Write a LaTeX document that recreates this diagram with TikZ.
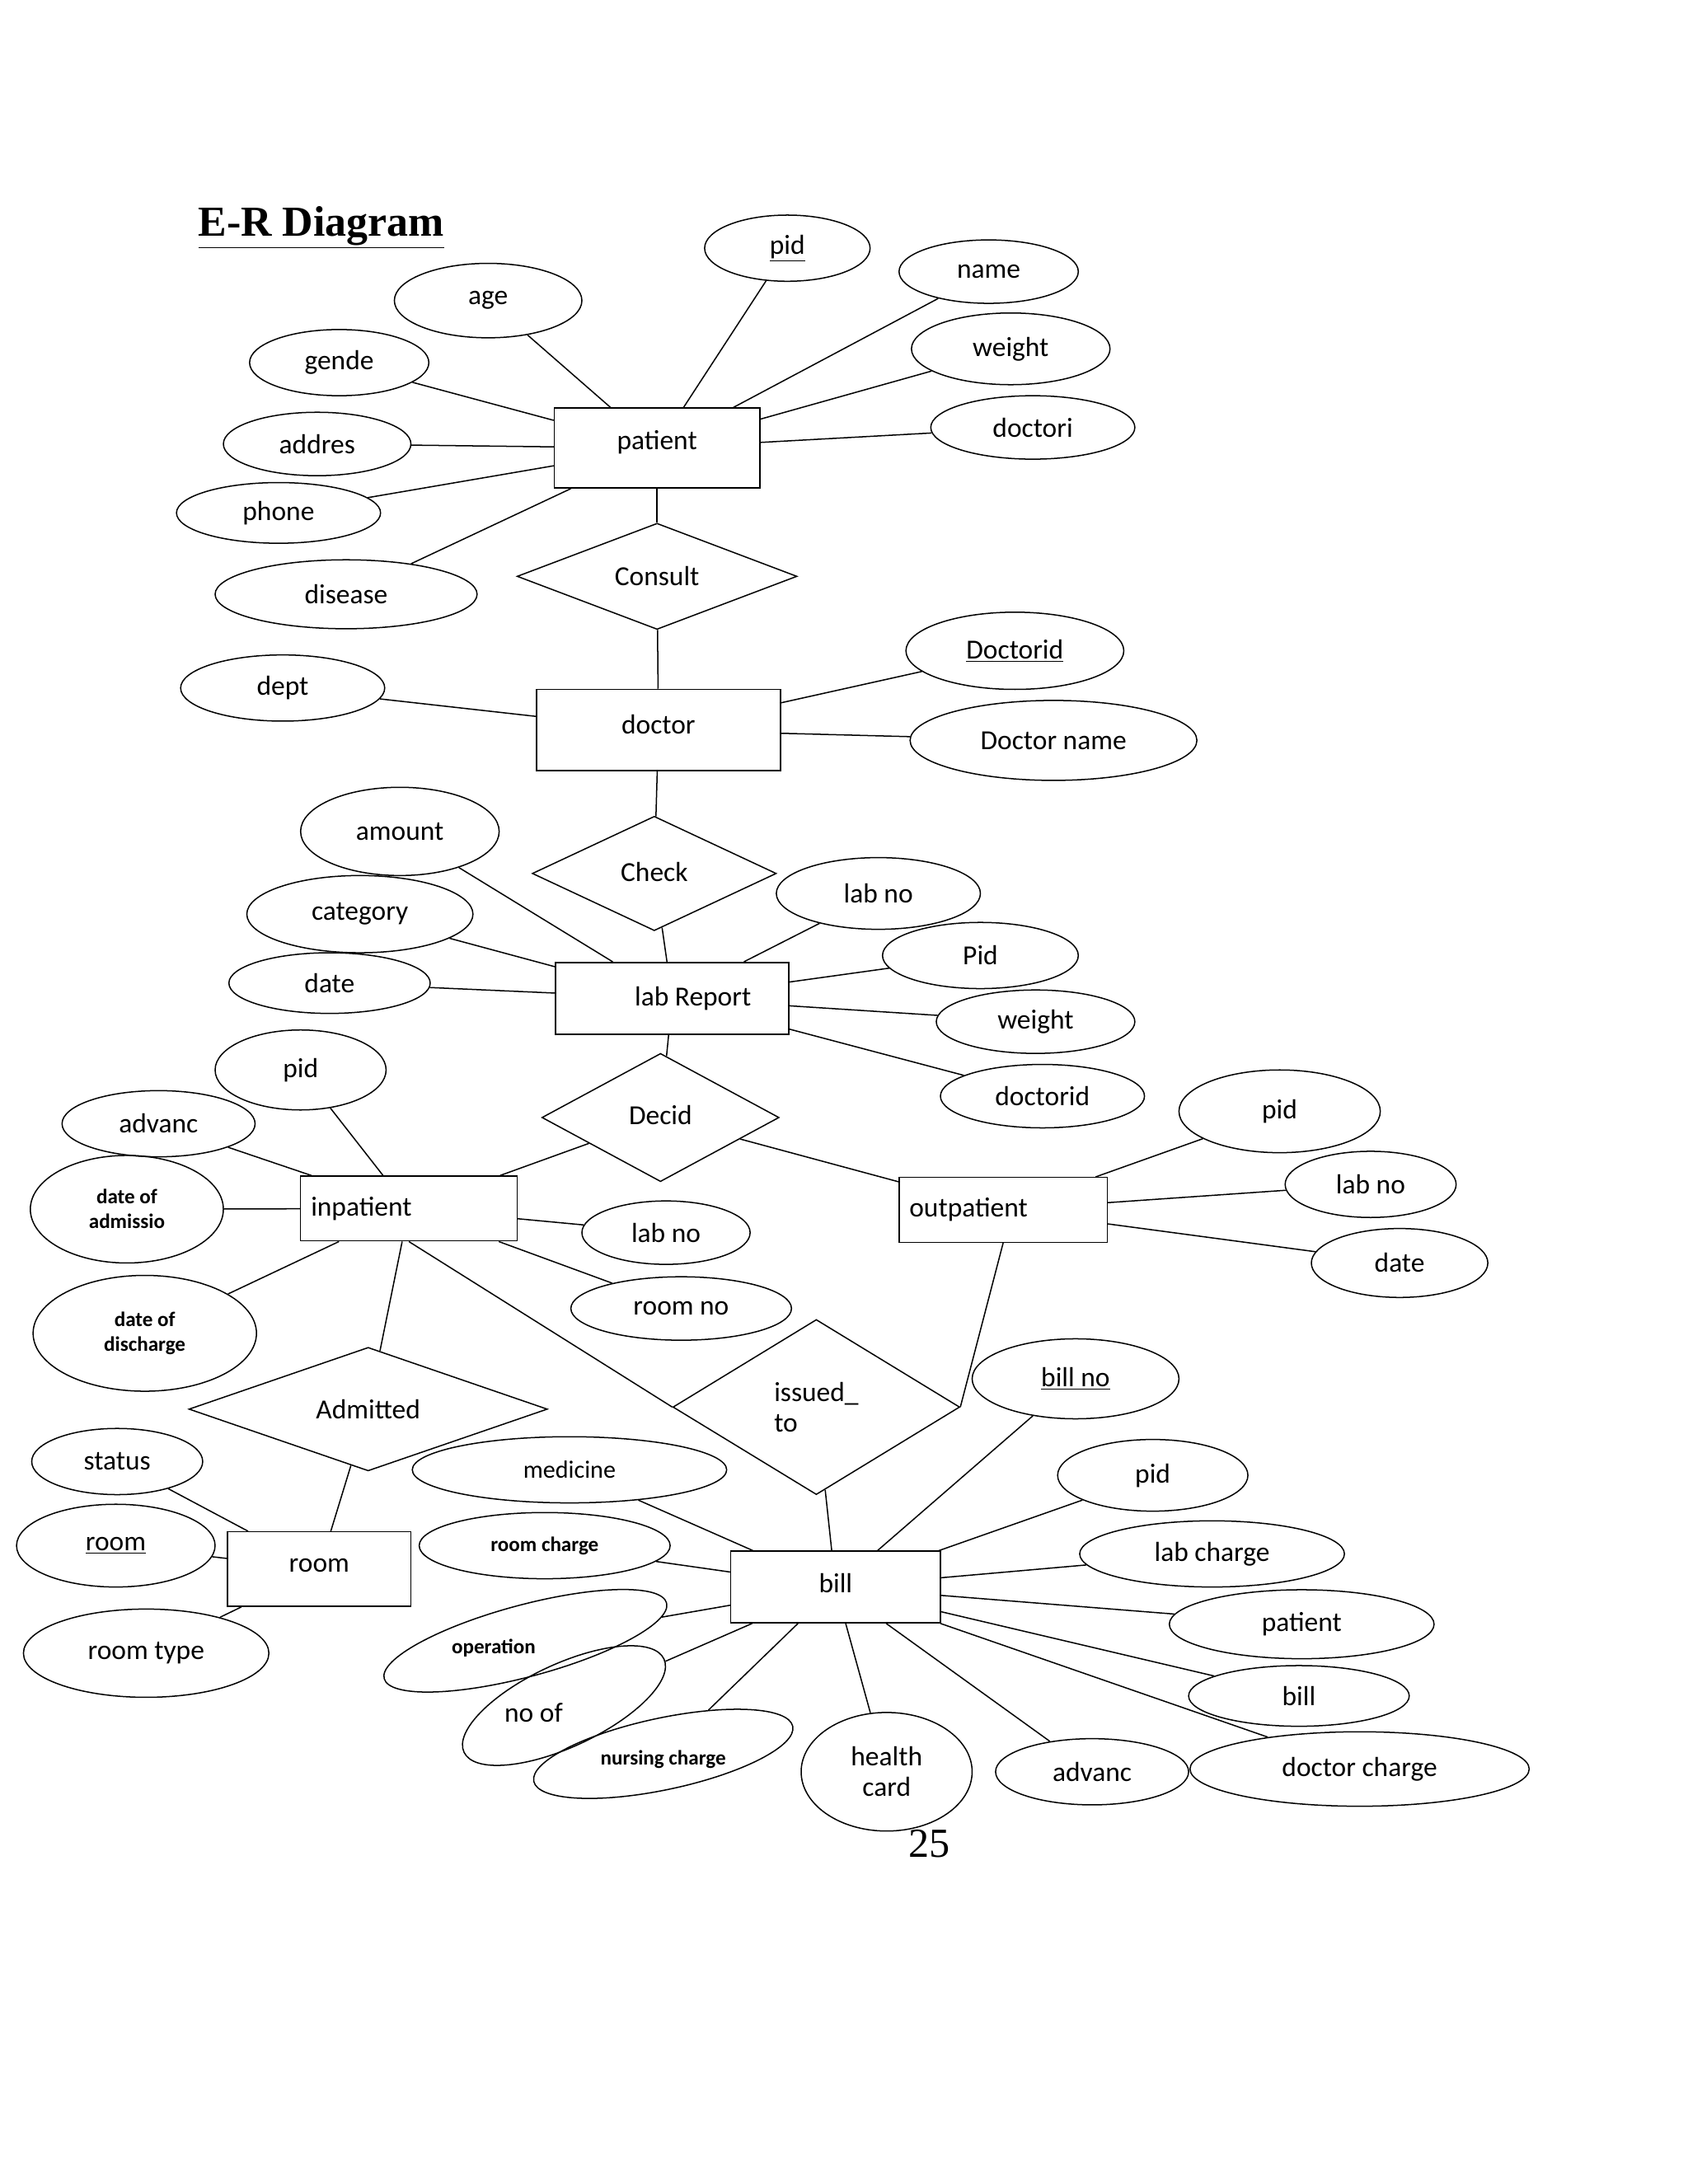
\documentclass[tikz,border=0pt]{standalone}
\usepackage{fontspec}
\setmainfont{Carlito}
\newfontfamily\titlefont{Liberation Serif}
\usetikzlibrary{shapes.geometric}
\tikzset{
 attr/.style={draw,ellipse,inner sep=0pt,font=\fontsize{20}{22}\selectfont},
 ent/.style={draw,rectangle,inner sep=0pt,font=\fontsize{20}{22}\selectfont},
 rel/.style={draw,diamond,inner sep=0pt,font=\fontsize{20}{22}\selectfont},
 sm/.style={font=\bfseries\fontsize{15}{18}\selectfont,align=center},
 lbl/.style={inner sep=0pt,font=\fontsize{20}{22}\selectfont}
}
\begin{document}
\begin{tikzpicture}[x=1pt,y=-1pt,line width=0.9pt]
\useasboundingbox[fill=white] (0,0) rectangle (1224,1584);
\node[font=\titlefont\bfseries\fontsize{31}{34}\selectfont,anchor=west] (title) at (140,165) {\underline{E-R Diagram}};
\newcommand\A[6][]{\node[attr,minimum width=2*#4,minimum height=2*#5,#1] (#2) at (#3) {#6};}
% entities
\node[ent,minimum width=149,minimum height=58] (patient) at (476.5,325) {\raisebox{12pt}{patient}};
\node[ent,minimum width=177,minimum height=59] (doctor) at (477.5,529.5) {\raisebox{8pt}{doctor}};
\node[ent,minimum width=169,minimum height=52] (lab) at (487.5,724) {\hspace*{30pt}lab Report};
\node[ent,minimum width=157,minimum height=47,text width=142] (inp) at (296.5,876.5) {inpatient};
\node[ent,minimum width=151,minimum height=47,text width=136] (outp) at (727.5,877.5) {outpatient};
\node[ent,minimum width=133,minimum height=54] (room) at (231.5,1138) {\raisebox{5pt}{room}};
\node[ent,minimum width=152,minimum height=52] (bill) at (606,1151) {\raisebox{6pt}{bill}};
% relationships
\node[rel,minimum width=203,minimum height=77] (consult) at (476.5,418) {Consult};
\node[rel,minimum width=177,minimum height=83] (check) at (474.5,633.5) {\raisebox{2pt}{Check}};
\node[rel,minimum width=172,minimum height=93] (decid) at (479,810.5) {\raisebox{4pt}{Decid}};
\node[rel,minimum width=260,minimum height=67] (admit) at (267,1022) {\raisebox{-6pt}{Admitted}};
\node[rel,minimum width=208,minimum height=127,align=left] (issued) at (592,1020.5) {issued\_\\to};
% attributes
\A{apid}{571,180}{60}{24}{\raisebox{-8pt}{\underline{pid}}}
\A{aname}{717,197}{65}{23}{\raisebox{-8pt}{name}}
\A{aage}{354,218}{68}{27}{age}
\A{aweight}{733,253}{72}{26}{weight}
\A{agende}{246,263}{65}{24}{\raisebox{-6pt}{gende}}
\A{adoctori}{749,310}{74}{23}{\raisebox{-6pt}{doctori}}
\A{aaddres}{230,322}{68}{23}{\raisebox{-6pt}{addres}}
\A{aphone}{202,372}{74}{22}{\raisebox{-6pt}{phone}}
\A{adisease}{251,431}{95}{25}{disease}
\A{adocid}{736,472}{79}{28}{\underline{Doctorid}}
\A{adept}{205,499}{74}{24}{\raisebox{-6pt}{dept}}
\A{adocname}{764,537}{104}{29}{Doctor name}
\A{aamount}{290,603}{72}{32}{amount}
\A{acat}{261,663}{82}{28}{category}
\A{alabno}{637,648}{74}{26}{lab no}
\A{aPid}{711,693}{71}{24}{\raisebox{-6pt}{Pid}}
\A{adate}{239,713}{73}{22}{\raisebox{-6pt}{date}}
\A{aweight2}{751,741}{72}{23}{\raisebox{-6pt}{weight}}
\A{apid3}{218,776}{62}{29}{pid}
\A{adocid2}{756,795}{74}{23}{\raisebox{-6pt}{doctorid}}
\A{apid4}{928,806}{73}{30}{pid}
\A{aadv}{115,815}{70}{24}{\raisebox{-6pt}{advanc}}
\A[sm]{adoa}{92,877}{70}{39}{date of\\admissio}
\A{alabno3}{994,859}{62}{24}{\raisebox{-6pt}{lab no}}
\A{alabno2}{483,894}{61}{23}{\raisebox{-6pt}{lab no}}
\A{adate3}{1015,916}{64}{25}{\raisebox{-4pt}{date}}
\A{aroomno}{494,949}{80}{23}{\raisebox{-6pt}{room no}}
\A[sm]{adod}{105,967}{81}{42}{date of\\discharge}
\A{abillno}{780,1000}{75}{29}{\underline{bill no}}
\A{astatus}{85,1060}{62}{24}{\raisebox{-6pt}{status}}
\A[font=\fontsize{18}{20}\selectfont]{amed}{413,1066}{114}{24}{\raisebox{-3pt}{medicine}}
\A{apid5}{836,1070}{69}{26}{\raisebox{-4pt}{pid}}
\A{aroom}{84,1121}{72}{30}{\underline{room}}
\A[sm]{aroomch}{395,1121}{91}{24}{room charge}
\A{alabch}{879,1127}{96}{24}{\raisebox{-6pt}{lab charge}}
\A{apat2}{944,1178}{96}{25}{\raisebox{-4pt}{patient}}
\A[rotate=15]{aoper}{381,1190}{106}{26}{}
\node[sm] (toper) at (358,1195) {operation};
\A{aroomtype}{106,1199}{89}{32}{room type}
\A{abill2}{942,1230}{80}{22}{\raisebox{-6pt}{bill}}
\A[rotate=25]{anoof}{409,1237}{80}{30}{}
\node[lbl] (tnoof) at (387,1242) {no of};
\A[rotate=12]{anurs}{481,1272}{96}{26}{}
\node[sm] (tnurs) at (481,1276) {nursing charge};
\A[align=center]{ahealth}{643,1285}{62}{43}{health\\card}
\A{aadv2}{792,1285}{70}{24}{\raisebox{-4pt}{advanc}}
\A{adocch}{986,1283}{123}{27}{doctor charge}
\node[font=\titlefont\fontsize{30}{34}\selectfont] (pg) at (674,1337) {25};
% connectors
\foreach \a/\b in {patient/aage,patient/agende,patient/aaddres,patient/aphone,patient/adisease,patient/apid,patient/aname,patient/aweight,patient/adoctori,
 patient/consult,consult/doctor,doctor/adept,doctor/adocid,doctor/adocname,doctor/check,check/lab,
 lab/aamount,lab/acat,lab/adate,lab/alabno,lab/aPid,lab/aweight2,lab/adocid2,lab/decid,
 decid/inp,decid/outp,inp/apid3,inp/aadv,inp/adoa,inp/adod,inp/alabno2,inp/aroomno,inp/admit,
 outp/apid4,outp/alabno3,outp/adate3,admit/room,room/astatus,room/aroom,room/aroomtype,issued/bill,
 bill/abillno,bill/amed,bill/aroomch,bill/aoper,bill/anoof,bill/anurs,bill/ahealth,bill/aadv2,bill/adocch,bill/abill2,bill/apat2,bill/alabch,bill/apid5}
 \draw (\a) -- (\b);
\draw (inp.south) -- (issued.west);
\draw (outp.south) -- (issued.east);
\end{tikzpicture}
\end{document}
